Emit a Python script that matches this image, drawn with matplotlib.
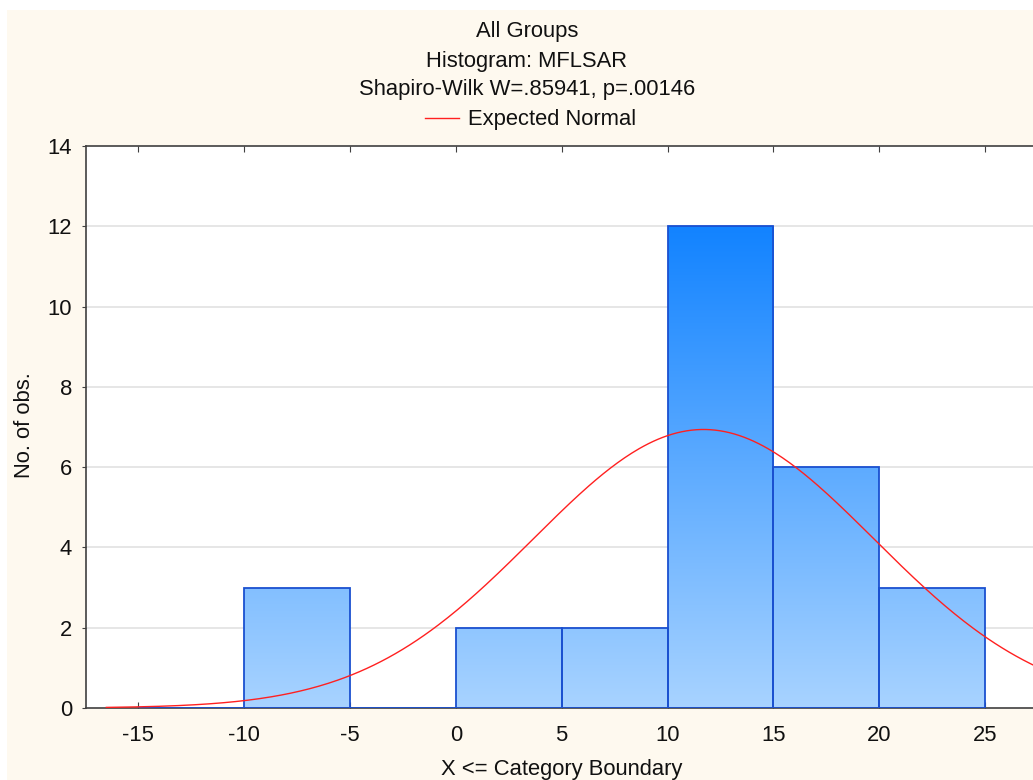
import numpy as np
import matplotlib.pyplot as plt
from matplotlib.patches import Rectangle
from matplotlib.colors import LinearSegmentedColormap

plt.rcParams['font.family'] = ['Liberation Sans', 'DejaVu Sans']
plt.rcParams['axes.unicode_minus'] = False

# histogram data (category boundaries and counts)
bin_edges = [-15, -10, -5, 0, 5, 10, 15, 20, 25]
counts = [0, 3, 0, 2, 2, 12, 6, 3]

# expected normal parameters
n_obs = 28
mean_val = 11.7
sd_val = 8.05

title_lines = ["All Groups", "Histogram: MFLSAR", "Shapiro-Wilk W=.85941, p=.00146"]
xticks = [-15, -10, -5, 0, 5, 10, 15, 20, 25]
yticks = [0, 2, 4, 6, 8, 10, 12, 14]

W, H = 1033, 780
FS = 15.8
fig = plt.figure(figsize=(W / 100, H / 100), dpi=100, facecolor='white')

# cream background panel
fig.patches.append(Rectangle((7 / W, 0), 1, (H - 10) / H, transform=fig.transFigure,
                             facecolor='#fef9ef', edgecolor='none', zorder=-5))

ax = fig.add_axes([86 / W, 72 / H, (1060 - 86) / W, (708 - 146) / H])
ax.set_zorder(2)
ax.set_facecolor('white')
ax.set_xlim(-17.46, 28.53)
ax.set_ylim(0, 14)

# grid
for yv in yticks[1:-1]:
    ax.axhline(yv, color='#e2e2e2', lw=1.2, zorder=1)

# gradient-filled bars
cmap = LinearSegmentedColormap.from_list('blu', ['#a8d3ff', '#1283ff'])
grad = np.linspace(0, 1, 256).reshape(-1, 1)
widths = np.diff(bin_edges)
for left, w, c in zip(bin_edges[:-1], widths, counts):
    rect = Rectangle((left, 0), w, c, facecolor='none', edgecolor='#1a50d0',
                     lw=1.3, zorder=3)
    ax.add_patch(rect)
    if c > 0:
        im = ax.imshow(grad, cmap=cmap, aspect='auto', origin='lower',
                       extent=(-17.46, 28.53, 0, 12), zorder=2)
        im.set_clip_path(rect)

# expected normal curve
xs = np.linspace(-16.5, 28.5, 400)
ys = n_obs * widths[0] / (sd_val * np.sqrt(2 * np.pi)) * np.exp(-(xs - mean_val) ** 2 / (2 * sd_val ** 2))
ax.plot(xs, ys, color='#ff2020', lw=1.0, zorder=4)

# axes styling
for s in ax.spines.values():
    s.set_color('#404040')
    s.set_linewidth(1.2)
ax.set_xticks(xticks)
ax.set_yticks(yticks)
ax.tick_params(axis='x', direction='in', length=4, top=True, labeltop=False,
               labelsize=FS, pad=12, color='#404040')
ax.tick_params(axis='y', direction='out', length=3, labelsize=FS, pad=7,
               color='#404040')
for lab in ax.get_xticklabels() + ax.get_yticklabels():
    lab.set_color('#111111')

# titles and labels
for i, line in enumerate(title_lines):
    fig.text(527 / W, 1 - (32 + 29 * i) / H, line, ha='center', va='center',
             fontsize=FS, color='#111111')
fig.lines.append(plt.Line2D([425 / W, 459 / W], [1 - 118 / H] * 2,
                            transform=fig.transFigure, color='#ff2020', lw=1.0))
fig.text(468 / W, 1 - 119 / H, "Expected Normal", ha='left', va='center',
         fontsize=FS, color='#111111')
fig.text(562 / W, 1 - 770 / H, "X <= Category Boundary", ha='center', va='center',
         fontsize=FS, color='#111111')
fig.text(25 / W, 1 - 425 / H, "No. of obs.", ha='center', va='center',
         rotation=90, fontsize=FS, color='#111111')

fig.savefig('out.png', dpi=100, facecolor=fig.get_facecolor())
